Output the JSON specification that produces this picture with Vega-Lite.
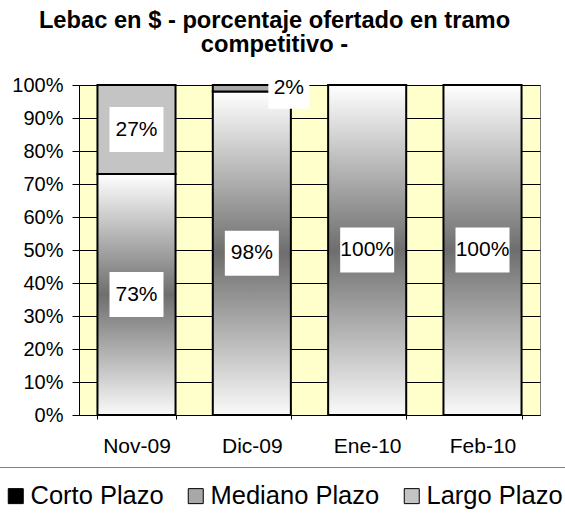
{
  "$schema": "https://vega.github.io/schema/vega-lite/v6.json",
  "autosize": {"type": "none"},
  "width": 461,
  "height": 330,
  "padding": {"left": 79, "top": 85, "right": 25, "bottom": 102},
  "background": "white",
  "config": {
    "font": "Liberation Sans",
    "view": {"fill": "#FFFFCC", "stroke": "#808080", "strokeWidth": 1},
    "axisY": {
      "title": null,
      "format": ".0%",
      "labelFontSize": 20,
      "labelColor": "black",
      "labelPadding": 9,
      "tickSize": 7,
      "tickColor": "black",
      "domainColor": "black",
      "grid": true,
      "gridColor": "black",
      "gridOpacity": 1,
      "gridWidth": 1,
      "labelOverlap": false
    }
  },
  "title": {
    "text": ["Lebac en $ - porcentaje ofertado en tramo", "competitivo -"],
    "font": "Liberation Sans",
    "fontSize": 23.7,
    "fontWeight": "bold",
    "color": "black",
    "anchor": "middle",
    "frame": "group",
    "lineHeight": 24,
    "offset": 11,
    "dx": -35
  },
  "data": {
    "values": [
      {"mes": "Nov-09", "tramo": "Corto Plazo", "pct": 0.73},
      {"mes": "Nov-09", "tramo": "Largo Plazo", "pct": 0.27},
      {"mes": "Dic-09", "tramo": "Corto Plazo", "pct": 0.98},
      {"mes": "Dic-09", "tramo": "Mediano Plazo", "pct": 0.02},
      {"mes": "Ene-10", "tramo": "Corto Plazo", "pct": 1.0},
      {"mes": "Feb-10", "tramo": "Corto Plazo", "pct": 1.0}
    ]
  },
  "transform": [
    {"stack": "pct", "groupby": ["mes"], "sort": [{"field": "tramo", "order": "ascending"}], "as": ["y0", "y1"]},
    {"calculate": "(datum.y0 + datum.y1) / 2", "as": "ymid"}
  ],
  "encoding": {
    "x": {
      "field": "mes",
      "type": "nominal",
      "sort": ["Nov-09", "Dic-09", "Ene-10", "Feb-10"],
      "scale": {"paddingInner": 0.323, "paddingOuter": 0.16},
      "axis": {
        "title": null,
        "labelAngle": 0,
        "labelFontSize": 21,
        "labelColor": "black",
        "labelPadding": 16,
        "tickBand": "extent",
        "tickSize": 4,
        "tickColor": "black",
        "domainColor": "black",
        "grid": false
      }
    }
  },
  "layer": [
    {
      "mark": {"type": "bar", "stroke": "black", "strokeWidth": 2},
      "encoding": {
        "y": {
          "field": "y1",
          "type": "quantitative",
          "scale": {"domain": [0, 1], "nice": false},
          "axis": {"values": [0, 0.1, 0.2, 0.3, 0.4, 0.5, 0.6, 0.7, 0.8, 0.9, 1]}
        },
        "y2": {"field": "y0"},
        "color": {
          "condition": {
            "test": "datum.tramo === 'Corto Plazo'",
            "value": {
              "gradient": "linear",
              "x1": 0, "y1": 0, "x2": 0, "y2": 1,
              "stops": [
                {"offset": 0, "color": "#ffffff"},
                {"offset": 0.5, "color": "#6e6e6e"},
                {"offset": 1, "color": "#fafafa"}
              ]
            }
          },
          "field": "tramo",
          "type": "nominal",
          "scale": {
            "domain": ["Corto Plazo", "Mediano Plazo", "Largo Plazo"],
            "range": ["#000000", "#a8a8a8", "#c4c4c4"]
          },
          "legend": {
            "title": null,
            "orient": "none",
            "direction": "horizontal",
            "legendX": -92,
            "legendY": 382,
            "padding": 16,
            "strokeColor": "#808080",
            "labelFontSize": 25.5,
            "labelColor": "black",
            "labelLimit": 400,
            "labelOffset": 2,
            "columnPadding": 19,
            "symbolType": "square",
            "symbolSize": 225,
            "symbolStrokeColor": "black",
            "symbolStrokeWidth": 1,
            "symbolOpacity": 1
          }
        }
      }
    },
    {
      "transform": [{"filter": "datum.pct >= 0.05"}],
      "mark": {"type": "point", "shape": "M-1.2,-1H1.2V1H-1.2Z", "filled": true, "fill": "white", "stroke": null, "opacity": 1, "size": 2025},
      "encoding": {"y": {"field": "ymid", "type": "quantitative", "axis": {"values": [0, 0.1, 0.2, 0.3, 0.4, 0.5, 0.6, 0.7, 0.8, 0.9, 1]}}}
    },
    {
      "transform": [{"filter": "datum.pct >= 0.05"}],
      "mark": {"type": "text", "fontSize": 21, "color": "black", "align": "center", "baseline": "middle"},
      "encoding": {
        "y": {"field": "ymid", "type": "quantitative", "axis": {"values": [0, 0.1, 0.2, 0.3, 0.4, 0.5, 0.6, 0.7, 0.8, 0.9, 1]}},
        "text": {"field": "pct", "type": "quantitative", "format": ".0%"}
      }
    },
    {
      "transform": [{"filter": "datum.pct < 0.05"}],
      "mark": {"type": "point", "shape": "square", "filled": true, "fill": "white", "stroke": null, "opacity": 1, "size": 1681, "xOffset": 37},
      "encoding": {"y": {"field": "ymid", "type": "quantitative", "axis": {"values": [0, 0.1, 0.2, 0.3, 0.4, 0.5, 0.6, 0.7, 0.8, 0.9, 1]}}}
    },
    {
      "transform": [{"filter": "datum.pct < 0.05"}],
      "mark": {"type": "text", "fontSize": 21, "color": "black", "align": "center", "baseline": "middle", "dx": 37},
      "encoding": {
        "y": {"field": "ymid", "type": "quantitative", "axis": {"values": [0, 0.1, 0.2, 0.3, 0.4, 0.5, 0.6, 0.7, 0.8, 0.9, 1]}},
        "text": {"field": "pct", "type": "quantitative", "format": ".0%"}
      }
    }
  ]
}
